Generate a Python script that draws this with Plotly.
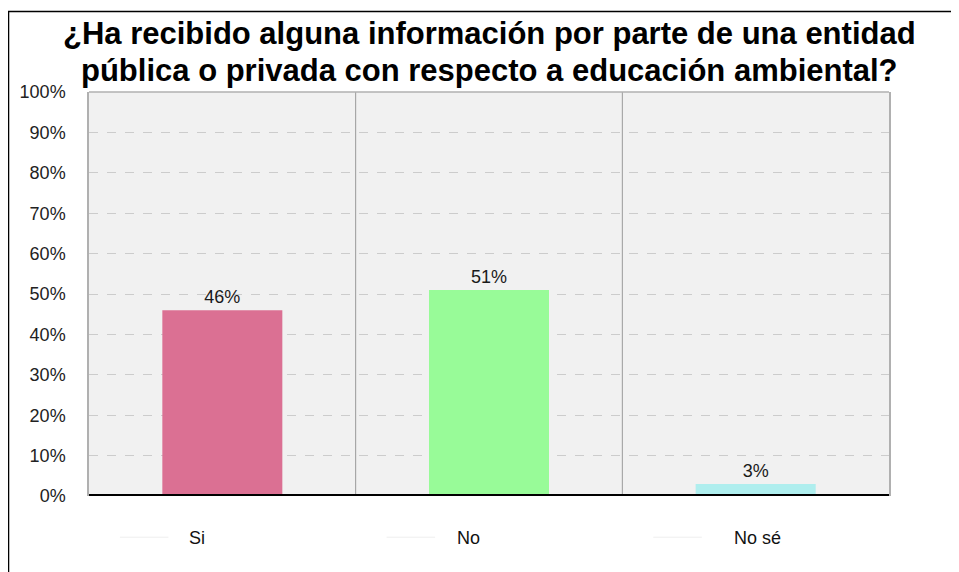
import plotly.graph_objects as go

categories = ["Si", "No", "No sé"]
values = [46, 51, 3]
labels = ["46%", "51%", "3%"]
colors = ["#DB7093", "#98FB98", "#AFEEEE"]
ytick_vals = [0, 10, 20, 30, 40, 50, 60, 70, 80, 90, 100]
ytick_text = [f"{v}%" for v in ytick_vals]
title_lines = ["¿Ha recibido alguna información por parte de una entidad",
               "pública o privada con respecto a educación ambiental?"]

FONT = "Arial, Liberation Sans, Helvetica, sans-serif"
label_shift = [-25, -21, 2]

x = list(range(len(categories)))

fig = go.Figure()
fig.add_trace(go.Bar(
    x=x, y=values, width=0.45,
    marker=dict(color=colors, line=dict(width=0)),
    text=labels, textposition="outside", cliponaxis=False,
    textfont=dict(size=18, color="#1a1a1a", family=FONT),
    hoverinfo="skip",
))

shapes = []
# category separators
for i in range(len(categories) - 1):
    shapes.append(dict(type="line", xref="x", yref="paper", x0=i + 0.5, x1=i + 0.5,
                       y0=0, y1=1, line=dict(color="#9a9a9a", width=1), layer="below"))
# top border of plot
shapes.append(dict(type="line", xref="paper", yref="paper", x0=0, x1=1, y0=1, y1=1,
                   line=dict(color="#b0b0b0", width=1.5)))
# baseline
shapes.append(dict(type="line", xref="paper", yref="y", x0=0, x1=1, y0=0, y1=0,
                   line=dict(color="#000000", width=4)))
# outer frame
shapes.append(dict(type="rect", xref="paper", yref="paper", x0=-0.1006, x1=1.2,
                   y0=-0.3, y1=1.1993, line=dict(color="#000000", width=1.5)))
# faint legend-like lines near category labels
for i in x:
    shapes.append(dict(type="line", xref="x", yref="paper", x0=i - 0.384, x1=i - 0.202,
                       y0=-0.102, y1=-0.102, line=dict(color="#eeeeee", width=1)))

annotations = []
for i, c in enumerate(categories):
    annotations.append(dict(text=c, x=i, xref="x", y=0, yref="paper", yshift=-42,
                            xshift=label_shift[i], showarrow=False, yanchor="middle",
                            font=dict(size=18, color="#111111", family=FONT)))
for j, t in enumerate(title_lines):
    annotations.append(dict(text=f"<b>{t}</b>", x=0.5, xref="paper", y=1, yref="paper",
                            yshift=[59, 22][j], showarrow=False, yanchor="middle",
                            font=dict(size=31, color="#000000", family=FONT)))

fig.update_layout(
    width=951, height=564,
    margin=dict(l=81, r=70, t=84, b=76),
    paper_bgcolor="white", plot_bgcolor="#f1f1f1",
    showlegend=False,
    shapes=shapes, annotations=annotations,
    font=dict(family=FONT),
    xaxis=dict(range=[-0.5, 2.5], showticklabels=False, showgrid=False, zeroline=False,
               showline=False, ticks="", fixedrange=True),
    yaxis=dict(range=[0, 100], tickvals=ytick_vals, ticktext=ytick_text,
               tickfont=dict(size=18, color="#222222", family=FONT),
               showgrid=True, gridcolor="#cccccc", griddash="dash", gridwidth=1,
               zeroline=False, showline=True, mirror=True, linecolor="#b0b0b0", linewidth=1.5,
               ticks="", ticklabelstandoff=18, fixedrange=True),
)

fig.write_html("out.html")
